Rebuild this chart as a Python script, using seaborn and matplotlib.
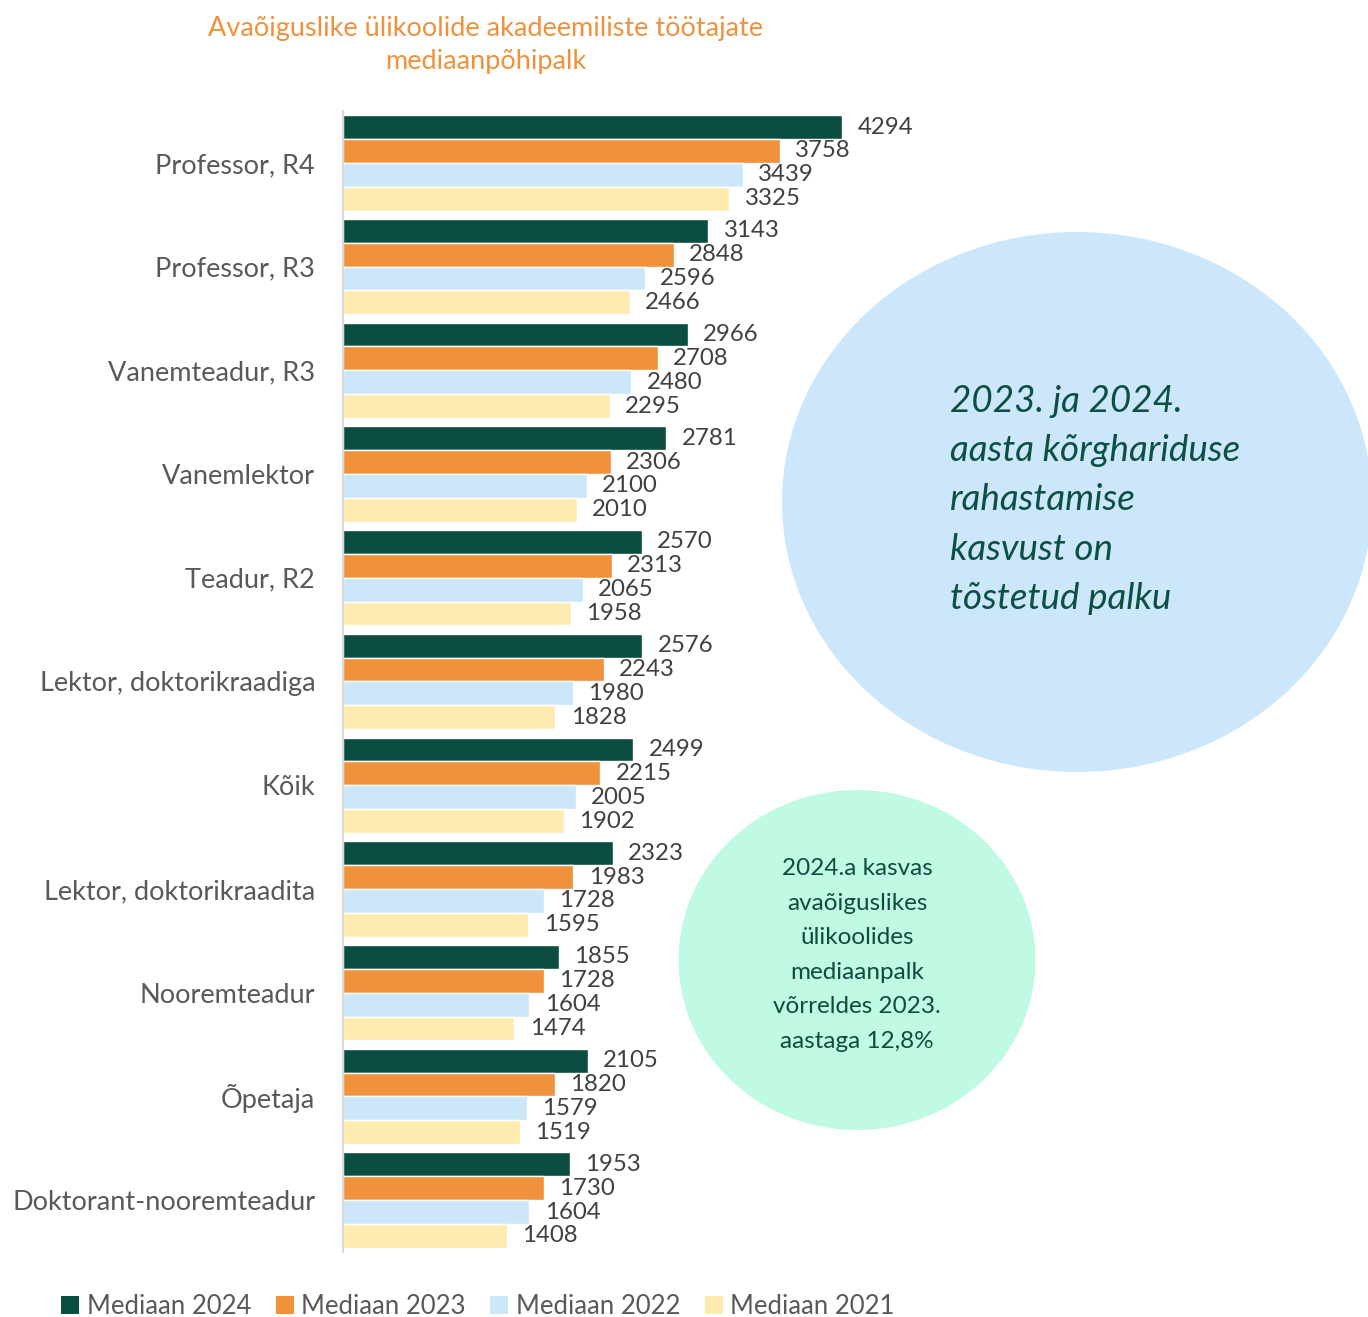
import pandas as pd
import matplotlib.pyplot as plt
import seaborn as sns
from matplotlib.patches import Ellipse, Patch

ametid = ["Professor, R4", "Professor, R3", "Vanemteadur, R3", "Vanemlektor", "Teadur, R2",
          "Lektor, doktorikraadiga", "Kõik", "Lektor, doktorikraadita", "Nooremteadur",
          "Õpetaja", "Doktorant-nooremteadur"]
mediaan_2024 = [4294, 3143, 2966, 2781, 2570, 2576, 2499, 2323, 1855, 2105, 1953]
mediaan_2023 = [3758, 2848, 2708, 2306, 2313, 2243, 2215, 1983, 1728, 1820, 1730]
mediaan_2022 = [3439, 2596, 2480, 2100, 2065, 1980, 2005, 1728, 1604, 1579, 1604]
mediaan_2021 = [3325, 2466, 2295, 2010, 1958, 1828, 1902, 1595, 1474, 1519, 1408]
seeriad = ["Mediaan 2024", "Mediaan 2023", "Mediaan 2022", "Mediaan 2021"]
varvid = ["#0B4D40", "#F0913B", "#CCE6FA", "#FFEBB0"]

df = pd.DataFrame({"Amet": ametid, seeriad[0]: mediaan_2024, seeriad[1]: mediaan_2023,
                   seeriad[2]: mediaan_2022, seeriad[3]: mediaan_2021})
df = df.melt(id_vars="Amet", var_name="Seeria", value_name="Palk")

sns.set_theme(style="white")
plt.rcParams["font.family"] = ["Lato", "DejaVu Sans"]

W, H = 13.68, 13.17
fig = plt.figure(figsize=(W, H), dpi=100)
ax = fig.add_axes([343 / 1368, 1 - 1252 / 1317, 1 - 343 / 1368, (1252 - 111) / 1317])
ax.patch.set_alpha(0)

sns.barplot(data=df, y="Amet", x="Palk", hue="Seeria", palette=varvid, width=0.92,
            orient="h", ax=ax, legend=False, saturation=1)

for c in ax.containers:
    ax.bar_label(c, padding=11, fontsize=17.3, color="#404040")

ax.set_xlim(0, 8820)
ax.set_xlabel("")
ax.set_ylabel("")
ax.set_xticks([])
ax.tick_params(axis="y", length=0, pad=20, labelsize=19.5, labelcolor="#595959")
for s in ["top", "right", "bottom"]:
    ax.spines[s].set_visible(False)
ax.spines["left"].set_color("#D9D9D9")
ax.spines["left"].set_linewidth(1.5)

# pealkiri
fig.text(486 / 1368, 1 - 45 / 1317, "Avaõiguslike ülikoolide akadeemiliste töötajate\nmediaanpõhipalk",
         ha="center", va="center", fontsize=19.5, color="#F0913B", linespacing=1.42)

# ellipsid
suur = Ellipse((10.77, H - 5.02), 5.9, 5.4, transform=fig.dpi_scale_trans,
               facecolor="#CCE7FB", edgecolor="none", zorder=0)
vaike = Ellipse((8.57, H - 9.60), 3.57, 3.40, transform=fig.dpi_scale_trans,
                facecolor="#C0FAE3", edgecolor="none", zorder=0)
fig.add_artist(suur)
fig.add_artist(vaike)

fig.text(950 / 1368, 1 - 500 / 1317,
         "2023. ja 2024.\naasta kõrghariduse\nrahastamise\nkasvust on\ntõstetud palku",
         ha="left", va="center", fontsize=26.5, style="italic", color="#0B5040", linespacing=1.6)
fig.text(857 / 1368, 1 - 955 / 1317,
         "2024.a kasvas\navaõiguslikes\nülikoolides\nmediaanpalk\nvõrreldes 2023.\naastaga 12,8%",
         ha="center", va="center", fontsize=17.5, color="#0B4D3E", linespacing=1.8)

# legend
kasted = [Patch(facecolor=v, edgecolor="none", label=s) for v, s in zip(varvid, seeriad)]
fig.legend(handles=kasted, loc="center", bbox_to_anchor=(478 / 1368, 1 - 1306 / 1317), ncol=4,
           frameon=False, fontsize=18.5, handlelength=0.7, handleheight=0.7, handletextpad=0.3,
           columnspacing=0.95, labelcolor="#595959")

plt.savefig("out.png", dpi=100)
